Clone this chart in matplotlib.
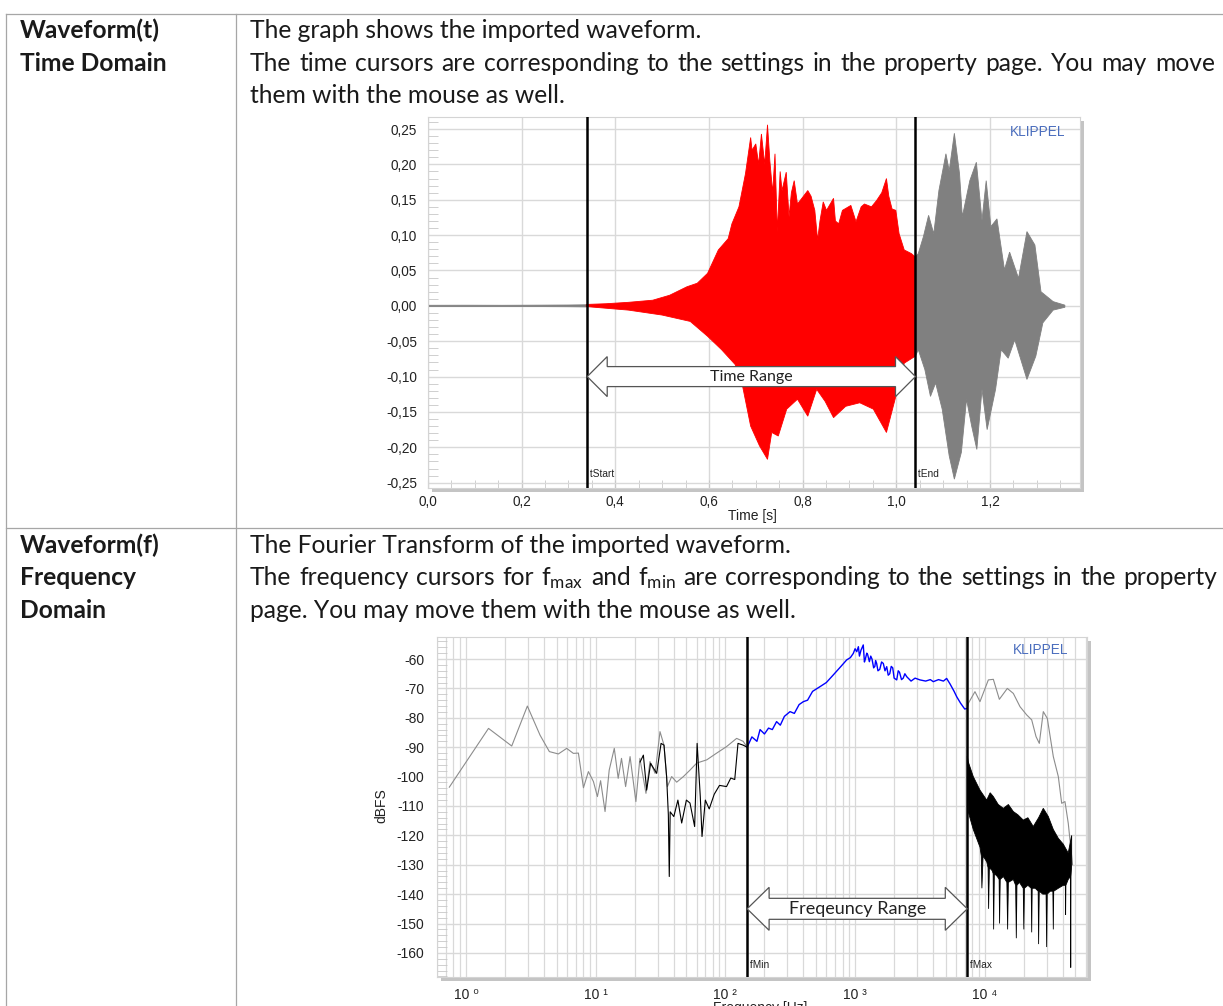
import numpy as np
import matplotlib.pyplot as plt
from matplotlib.lines import Line2D
from matplotlib.patches import Polygon, Rectangle
from matplotlib.ticker import MultipleLocator, FixedLocator, FuncFormatter, LogLocator, NullFormatter

plt.rcParams['font.family'] = ['Liberation Sans', 'DejaVu Sans']
plt.rcParams['mathtext.default'] = 'regular'
plt.rcParams['axes.unicode_minus'] = False

# --- time domain waveform (envelope of the imported signal) ---
t_start = 0.34
t_end = 1.041

pre_t = [0.0, 0.08, 0.16, 0.24, 0.30, 0.338]
pre_up = [0.0008, 0.0009, 0.0008, 0.0010, 0.0012, 0.0015]
pre_lo = [-0.0008, -0.0009, -0.0008, -0.0010, -0.0012, -0.0015]

red_t_up = [0.338, 0.38, 0.428, 0.48, 0.516, 0.553, 0.575, 0.597, 0.62, 0.641,
            0.649, 0.664, 0.678, 0.689, 0.692, 0.70, 0.706, 0.712, 0.719, 0.725,
            0.73, 0.736, 0.741, 0.746, 0.752, 0.756, 0.765, 0.771, 0.776, 0.782,
            0.789, 0.796, 0.811, 0.818, 0.826, 0.832, 0.837, 0.844, 0.851, 0.866,
            0.87, 0.877, 0.885, 0.903, 0.914, 0.925, 0.932, 0.947, 0.958, 0.969,
            0.979, 0.984, 0.991, 0.999, 1.006, 1.017, 1.032, 1.041]
red_up = [0.002, 0.003, 0.005, 0.008, 0.015, 0.027, 0.032, 0.046, 0.079, 0.095,
          0.116, 0.14, 0.187, 0.238, 0.22, 0.229, 0.2, 0.243, 0.2, 0.256,
          0.205, 0.16, 0.215, 0.105, 0.19, 0.163, 0.189, 0.126, 0.16, 0.177,
          0.144, 0.15, 0.163, 0.155, 0.135, 0.093, 0.12, 0.147, 0.135, 0.152,
          0.12, 0.116, 0.135, 0.142, 0.119, 0.14, 0.144, 0.14, 0.149, 0.16,
          0.18, 0.155, 0.137, 0.135, 0.102, 0.079, 0.074, 0.069]
red_t_lo = [0.338, 0.428, 0.5, 0.56, 0.597, 0.627, 0.656, 0.671, 0.689, 0.708,
            0.725, 0.734, 0.748, 0.766, 0.789, 0.811, 0.83, 0.848, 0.866, 0.892,
            0.922, 0.951, 0.979, 0.999, 1.017, 1.041]
red_lo = [-0.001, -0.006, -0.013, -0.022, -0.043, -0.062, -0.083, -0.111, -0.17, -0.198,
          -0.217, -0.179, -0.184, -0.146, -0.132, -0.156, -0.118, -0.135, -0.158, -0.142,
          -0.137, -0.146, -0.179, -0.128, -0.081, -0.071]

gray_t_up = [1.041, 1.047, 1.058, 1.069, 1.08, 1.091, 1.106, 1.113, 1.124, 1.135,
             1.141, 1.157, 1.171, 1.183, 1.192, 1.202, 1.215, 1.231, 1.242, 1.261,
             1.279, 1.296, 1.309, 1.335, 1.36]
gray_up = [0.069, 0.074, 0.098, 0.128, 0.102, 0.163, 0.215, 0.191, 0.244, 0.187,
           0.126, 0.177, 0.203, 0.121, 0.177, 0.112, 0.123, 0.051, 0.076, 0.039,
           0.105, 0.086, 0.02, 0.006, 0.001]
gray_t_lo = [1.041, 1.047, 1.061, 1.073, 1.084, 1.098, 1.113, 1.124, 1.139, 1.15,
             1.161, 1.172, 1.183, 1.194, 1.212, 1.224, 1.239, 1.253, 1.279, 1.298,
             1.313, 1.335, 1.36]
gray_lo = [-0.071, -0.062, -0.09, -0.128, -0.109, -0.146, -0.212, -0.245, -0.207, -0.132,
           -0.17, -0.203, -0.118, -0.175, -0.118, -0.062, -0.074, -0.048, -0.104, -0.071,
           -0.024, -0.006, -0.002]

# --- frequency domain (magnitude in dBFS) ---
f_min = 147
f_max = 7330

spec_lo_f = [0.743, 1.49, 2.25, 2.97, 3.72, 4.39, 5.15, 5.97, 6.72, 7.35,
             8.04, 8.78, 9.6, 10.3, 10.9, 11.8, 12.7, 13.9, 14.9, 15.8,
             17.0, 18.4, 20.4, 21.9, 24.4, 26.2, 28.7, 31.3, 33.6, 35.7,
             38.5, 42.1, 47.4, 53.3, 60.1, 71.8, 85.7, 102, 122, 137, 147]
spec_lo_db = [-103.6, -83.6, -89.6, -76.0, -85.9, -91.5, -92.3, -90.4, -92.1, -92.0,
              -103.8, -98.3, -101.7, -106.8, -101.4, -111.9, -97.8, -90.4, -100.6, -93.8,
              -103.4, -93.2, -108.5, -93.8, -105.7, -94.9, -98.9, -84.7, -89.3, -103.4,
              -100.0, -101.9, -100.0, -97.8, -95.4, -94.3, -92.0, -89.8, -87.0, -88.0, -90.0]

band_f = [147, 160, 175, 185, 200, 215, 230, 248, 265, 285,
          315, 340, 370, 399, 430, 470, 536, 600, 679, 760,
          861, 920, 968, 1000, 1030, 1060, 1080, 1110, 1156, 1180,
          1200, 1230, 1250, 1288, 1320, 1350, 1390, 1420, 1440, 1466,
          1500, 1550, 1600, 1650, 1700, 1753, 1800, 1850, 1900, 1950,
          2000, 2094, 2150, 2200, 2280, 2350, 2420, 2500, 2700, 2900,
          3164, 3500, 3800, 4008, 4400, 4800, 5080, 5400, 5800, 6069,
          6500, 7000, 7330]
band_db = [-90.0, -86.5, -88.0, -84.0, -85.5, -83.5, -84.0, -81.3, -82.5, -79.5,
           -77.9, -78.5, -75.5, -74.5, -74.0, -71.0, -69.4, -68.0, -65.4, -63.0,
           -60.3, -59.5, -58.1, -56.5, -57.5, -55.8, -59.0, -57.0, -55.2, -61.0,
           -60.0, -58.0, -58.5, -60.9, -59.0, -60.0, -63.0, -62.5, -60.5, -61.5,
           -64.0, -63.5, -61.0, -61.5, -64.0, -62.6, -65.5, -65.0, -62.5, -63.0,
           -66.5, -67.1, -64.0, -64.5, -67.0, -66.5, -65.0, -66.0, -67.5, -66.5,
           -67.1, -67.5, -67.0, -67.7, -67.0, -67.5, -66.6, -68.5, -71.0, -72.8,
           -75.0, -77.0, -76.8]

spec_hi_f = [7330, 7460, 8400, 9180, 10650, 11640, 12950, 14920, 16600, 18680,
             21030, 23000, 24840, 26330, 28260, 30350, 33760, 36900, 39170, 41520,
             44020, 46000, 47500]
spec_hi_db = [-76.8, -75.1, -71.1, -74.5, -67.1, -66.9, -73.7, -70.0, -71.7, -76.2,
              -79.0, -80.7, -86.4, -88.7, -77.9, -80.2, -93.2, -100.0, -109.1, -108.5,
              -115.9, -124.0, -130.0]

win_f = [22, 23.3, 24.7, 26.5, 29.5, 31.9, 33.6, 35.2, 36.3, 36.9,
         37.5, 40, 43, 46, 50, 53.3, 57.9, 60.5, 64, 66,
         70, 75, 82, 90, 102, 110, 118, 125, 137, 147]
win_db = [-95.0, -92.7, -104.6, -95.5, -98.9, -88.7, -89.3, -100.0, -113.0, -134.0,
          -112.0, -113.6, -108.0, -115.8, -108.0, -109.0, -117.0, -88.7, -106.8, -120.4,
          -108.0, -111.0, -106.0, -103.0, -103.4, -100.5, -101.0, -88.7, -89.3, -90.0]

tail_top_f = [7330, 7460, 8150, 9180, 10350, 11000, 11640, 12700, 13900, 15200,
              16600, 18000, 19800, 21500, 23650, 26000, 28260, 30900, 33760, 36900,
              40300, 44000, 46770]
tail_top_db = [-93.0, -95.0, -100.0, -104.6, -108.0, -105.5, -106.8, -109.5, -110.8, -109.5,
               -111.9, -113.0, -114.8, -114.0, -117.0, -114.0, -110.8, -113.6, -118.0, -121.0,
               -123.0, -126.0, -120.0]
tail_bot_f = [7330, 7460, 8150, 9180, 9400, 9500, 9700, 10350, 10600, 10700,
              10850, 11400, 11600, 11700, 11850, 12500, 12900, 13000, 13150, 13900,
              14800, 15000, 15200, 16600, 17300, 17500, 17700, 18500, 19800, 20000,
              20200, 21500, 22800, 23000, 23200, 24500, 25800, 26000, 26300, 28000,
              29700, 30000, 30300, 32000, 33500, 33760, 34000, 36900, 40300, 41800,
              42000, 42200, 44000, 45800, 46000, 46200, 46770]
tail_bot_db = [-95, -112, -118, -124, -127, -138, -127, -129, -131, -145,
               -131, -132, -133, -152, -133, -134, -135, -150, -135, -134,
               -136, -152, -136, -135, -137, -155, -137, -136, -138, -152,
               -138, -137, -138, -153, -138, -138, -139, -157, -139, -140,
               -140, -158, -140, -139, -139, -152, -139, -138, -137, -137,
               -147, -137, -135, -134, -165, -134, -130]

W, H = 1223, 1006
fig = plt.figure(figsize=(W / 100, H / 100), dpi=100)
renderer = fig.canvas.get_renderer()


def fx(x):
    return x / W


def fy(y):
    return 1 - y / H


def hline(y, x0, x1):
    fig.add_artist(Line2D([fx(x0), fx(x1)], [fy(y), fy(y)], transform=fig.transFigure,
                          color='#a6a6a6', lw=0.9))


def vline(x, y0, y1):
    fig.add_artist(Line2D([fx(x), fx(x)], [fy(y0), fy(y1)], transform=fig.transFigure,
                          color='#a6a6a6', lw=0.9))


# table frame
hline(13.5, 6, 1223)
hline(527.5, 6, 1223)
vline(6, 13.5, 1006)
vline(236, 13.5, 1006)

doc_font = 'Lato'
ink = '#1a1a1a'


def width_of(s, size, weight='normal'):
    t = fig.text(0, 0, s, fontsize=size, family=doc_font, fontweight=weight)
    w = t.get_window_extent(renderer).width
    t.remove()
    return w


doc_size = 20 * 453 / width_of('The graph shows the imported waveform.', 20)


def put(s, x, y, weight='normal'):
    fig.text(fx(x), fy(y), s, fontsize=doc_size, family=doc_font, fontweight=weight,
             color=ink, va='baseline', ha='left')


def justify(words, x0, x1, y):
    widths = [width_of(w, doc_size) for w in words]
    gap = (x1 - x0 - sum(widths)) / (len(words) - 1)
    x = x0
    for w, wd in zip(words, widths):
        put(w, x, y)
        x += wd + gap


put('Waveform(t)', 20, 38.3, 'bold')
put('Time Domain', 20, 70.7, 'bold')
put('The graph shows the imported waveform.', 250, 38.3)
justify('The time cursors are corresponding to the settings in the property page. You may move'.split(),
        250, 1215, 70.7)
put('them with the mouse as well.', 250, 103.1)

put('Waveform(f)', 20, 552.7, 'bold')
put('Frequency', 20, 585.1, 'bold')
put('Domain', 20, 617.5, 'bold')
put('The Fourier Transform of the imported waveform.', 250, 552.7)
justify(['The', 'frequency', 'cursors', 'for', 'f$_{max}$', 'and', 'f$_{min}$', 'are',
         'corresponding', 'to', 'the', 'settings', 'in', 'the', 'property'],
        250, 1217, 585.1)
put('page. You may move them with the mouse as well.', 250, 617.5)

grid_c = '#d9d9d9'
tick_c = '#222222'
shadow_c = '#c4c4c4'
logo_c = '#4a6dbd'


def chart_axes(left, top, right, bottom):
    fig.add_artist(Rectangle((fx(left + 4), fy(bottom + 4)), (right - left) / W, (bottom - top) / H,
                             transform=fig.transFigure, facecolor=shadow_c, edgecolor='none',
                             zorder=-1))
    ax = fig.add_axes([fx(left), fy(bottom), (right - left) / W, (bottom - top) / H])
    ax.set_facecolor('white')
    for sp in ax.spines.values():
        sp.set_color('#d4d4d4')
        sp.set_linewidth(0.8)
    return ax


def range_arrow(ax, x0, x1, yc, head_len, head_half, body_half, label, size):
    (a, y), (b, _) = ax.transData.transform([(x0, yc), (x1, yc)])
    verts = [(a, y), (a + head_len, y + head_half), (a + head_len, y + body_half),
             (b - head_len, y + body_half), (b - head_len, y + head_half), (b, y),
             (b - head_len, y - head_half), (b - head_len, y - body_half),
             (a + head_len, y - body_half), (a + head_len, y - head_half)]
    data = ax.transData.inverted().transform(verts)
    ax.add_patch(Polygon(data, closed=True, facecolor='white', edgecolor='#555555',
                         lw=0.9, zorder=5))
    mx, my = ax.transData.inverted().transform([((a + b) / 2, y)])[0]
    ax.text(mx, my, label, fontsize=size, family=doc_font, color='#222222',
            ha='center', va='center', zorder=6)


# ---------------- time domain chart ----------------
ax1 = chart_axes(428, 117, 1080, 488)
ax1.set_xlim(0, 1.3923)
ax1.set_ylim(-0.2575, 0.267)

ax1.fill(np.concatenate([pre_t, pre_t[::-1]]),
         np.concatenate([pre_up, pre_lo[::-1]]), color='#808080', lw=0.6, zorder=2)
ax1.fill(np.concatenate([red_t_up, red_t_lo[::-1]]),
         np.concatenate([red_up, red_lo[::-1]]), color='#ff0000', lw=0.6, zorder=2)
ax1.fill(np.concatenate([gray_t_up, gray_t_lo[::-1]]),
         np.concatenate([gray_up, gray_lo[::-1]]), color='#808080', lw=0.6, zorder=2)

ax1.xaxis.set_major_locator(MultipleLocator(0.2))
ax1.xaxis.set_minor_locator(MultipleLocator(0.05))
ax1.yaxis.set_major_locator(MultipleLocator(0.05))
ax1.yaxis.set_minor_locator(MultipleLocator(0.01))
ax1.xaxis.set_major_formatter(FuncFormatter(lambda v, p: f'{v:.1f}'.replace('.', ',')))
ax1.yaxis.set_major_formatter(FuncFormatter(
    lambda v, p: f'{0.0 if abs(v) < 1e-9 else v:.2f}'.replace('.', ',')))
ax1.grid(True, which='major', color=grid_c, lw=1.0, zorder=0)
ax1.set_axisbelow(True)
ax1.tick_params(axis='y', which='major', length=0, pad=8, labelsize=9.8, labelcolor=tick_c)
ax1.tick_params(axis='y', which='minor', direction='in', length=7, color='#c8c8c8')
ax1.tick_params(axis='x', which='both', direction='in', length=6, color='#c8c8c8',
                pad=5, labelsize=9.8, labelcolor=tick_c)

for xc, name in [(t_start, 'tStart'), (t_end, 'tEnd')]:
    ax1.axvline(xc, color='black', lw=1.8, zorder=4)
    ax1.text(xc, 0.038, ' ' + name, transform=ax1.get_xaxis_transform(), fontsize=7.3,
             color='#222222', ha='left', va='center', zorder=6)

range_arrow(ax1, t_start, t_end, -0.10, 20, 20, 10, 'Time Range', 11.5)
ax1.text(0.977, 0.96, 'KLIPPEL', transform=ax1.transAxes, fontsize=9.8, color=logo_c,
         ha='right', va='center')
fig.text(fx(752), fy(516), 'Time [s]', fontsize=10, color=tick_c, ha='center', va='center')

# ---------------- frequency domain chart ----------------
ax2 = chart_axes(437, 637, 1087, 977)
ax2.set_xscale('log')
ax2.set_xlim(0.597, 61400)
ax2.set_ylim(-168.2, -52.5)

ax2.plot(spec_lo_f, spec_lo_db, color='#8c8c8c', lw=0.8, zorder=2)
ax2.plot(spec_hi_f, spec_hi_db, color='#8c8c8c', lw=0.8, zorder=2)
ax2.plot(win_f, win_db, color='black', lw=0.8, zorder=2)
ax2.fill(np.concatenate([tail_top_f, tail_bot_f[::-1]]),
         np.concatenate([tail_top_db, tail_bot_db[::-1]]), color='black', lw=0.6, zorder=2)
ax2.plot(band_f, band_db, color='#0000ff', lw=1.0, zorder=3)

sup = {0: '\u2070', 1: '\u00b9', 2: '\u00b2', 3: '\u00b3', 4: '\u2074'}
ax2.xaxis.set_major_locator(LogLocator(base=10, numticks=12))
ax2.xaxis.set_minor_locator(LogLocator(base=10, subs=np.arange(2, 10), numticks=12))
ax2.xaxis.set_major_formatter(FuncFormatter(lambda v, p: '10 ' + sup.get(int(round(np.log10(v))), '')))
ax2.xaxis.set_minor_formatter(NullFormatter())
ax2.yaxis.set_major_locator(FixedLocator(np.arange(-160, -50, 10)))
ax2.yaxis.set_minor_locator(MultipleLocator(2))
ax2.grid(True, which='both', axis='x', color=grid_c, lw=0.9, zorder=0)
ax2.grid(True, which='major', axis='y', color=grid_c, lw=1.0, zorder=0)
ax2.set_axisbelow(True)
ax2.tick_params(axis='x', which='both', length=0, pad=8, labelsize=10, labelcolor=tick_c)
ax2.tick_params(axis='y', which='major', length=0, pad=9, labelsize=10, labelcolor=tick_c)
ax2.tick_params(axis='y', which='minor', direction='in', length=7, color='#c8c8c8')

for xc, name in [(f_min, 'fMin'), (f_max, 'fMax')]:
    ax2.axvline(xc, color='black', lw=1.8, zorder=4)
    ax2.text(xc, 0.035, ' ' + name, transform=ax2.get_xaxis_transform(), fontsize=7.3,
             color='#222222', ha='left', va='center', zorder=6)

range_arrow(ax2, f_min, f_max, -145, 22, 21.5, 10.5, 'Freqeuncy Range', 13)
ax2.text(0.972, 0.962, 'KLIPPEL', transform=ax2.transAxes, fontsize=9.8, color=logo_c,
         ha='right', va='center')
fig.text(fx(381), fy(806), 'dBFS', fontsize=10, color=tick_c, rotation=90,
         ha='center', va='center')
# the axis title sits on the lower page edge
fig.text(fx(760), fy(1008), 'Frequency [Hz]', fontsize=10, color=tick_c, ha='center', va='center')

fig.savefig('out.png', dpi=100)
